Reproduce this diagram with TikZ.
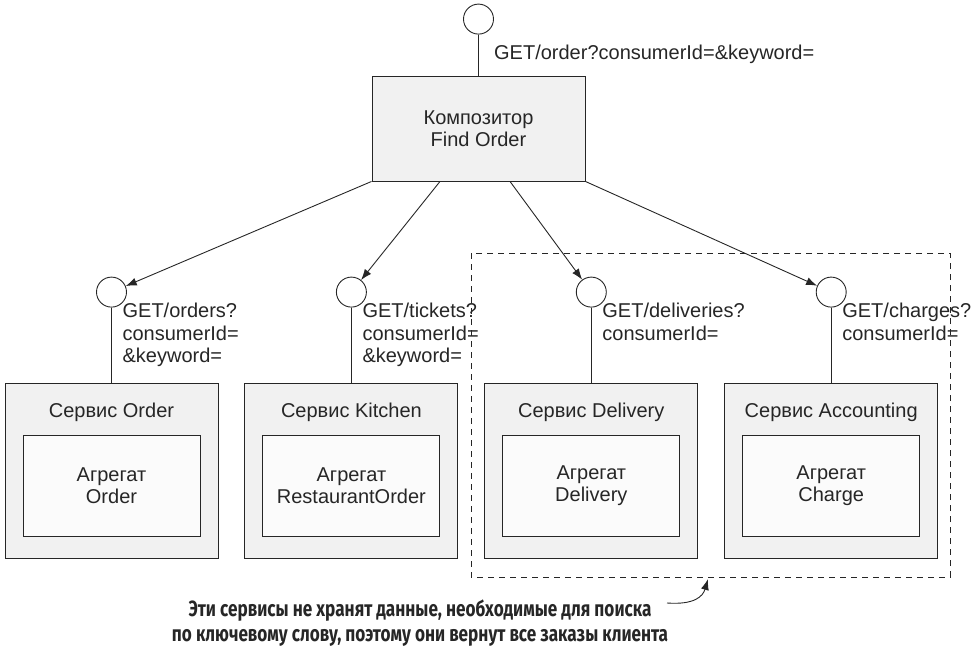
\documentclass[tikz,border=0pt]{standalone}
\usepackage{fontspec}
\setmainfont{Liberation Sans}
\newfontfamily\notefont[FakeStretch=0.78]{Fira Sans}
\usepackage{tikz}
\usetikzlibrary{positioning,arrows.meta}
\definecolor{ink}{HTML}{262626}
\definecolor{boxfill}{HTML}{F1F1F1}
\definecolor{innerfill}{HTML}{FBFBFB}

\begin{document}
\begin{tikzpicture}[x=1pt,y=-1pt,>={Latex[length=11pt,width=8pt]},
  node distance=26pt,
  every node/.style={text=ink,font=\fontsize{20}{22.5}\selectfont},
  port/.style={draw=ink,line width=0.9pt,circle,minimum size=30pt,inner sep=0pt,fill=white},
  cbox/.style={draw=ink,line width=0.9pt,fill=boxfill,minimum width=213pt,minimum height=105pt,align=center},
  svcbox/.style={draw=ink,line width=0.9pt,fill=boxfill,minimum width=213pt,minimum height=175pt},
  aggbox/.style={draw=ink,line width=0.9pt,fill=innerfill,minimum width=177pt,minimum height=101pt,align=center},
  lbl/.style={anchor=north west,inner sep=0pt,align=left},
  wire/.style={draw=ink,line width=0.9pt}]
\useasboundingbox (0,0) rectangle (979,653);

% composer
\node (comp) [cbox] at (478.5,128.5) {Композитор\\Find Order};
\node (c0) [port, above=41pt of comp] {};
\node (l0) [anchor=west,inner sep=0pt] at ([yshift=-35pt]c0.east) {GET/order?consumerId=\&keyword=};
\draw[wire] (c0) -- (comp);

% services
\node (svc1) [svcbox] at (111.5,470.5) {};
\node (svc2) [svcbox, right=of svc1] {};
\node (svc3) [svcbox, right=of svc2] {};
\node (svc4) [svcbox, right=of svc3] {};

\node (t1) at ([yshift=-30pt]svc1.north) {Сервис Order};
\node (t2) at ([yshift=-30pt]svc2.north) {Сервис Kitchen};
\node (t3) at ([yshift=-30pt]svc3.north) {Сервис Delivery};
\node (t4) at ([yshift=-30pt]svc4.north) {Сервис Accounting};

\node (a1) [aggbox] at ([yshift=-15pt]svc1.center) {Агрегат\\Order};
\node (a2) [aggbox] at ([yshift=-15pt]svc2.center) {Агрегат\\RestaurantOrder};
\node (a3) [aggbox] at ([yshift=-15pt]svc3.center) {Агрегат\\Delivery};
\node (a4) [aggbox] at ([yshift=-15pt]svc4.center) {Агрегат\\Charge};

% ports of the services
\node (p1) [port, above=75pt of svc1] {};
\node (p2) [port, above=75pt of svc2] {};
\node (p3) [port, above=75pt of svc3] {};
\node (p4) [port, above=75pt of svc4] {};
\draw[wire] (p1) -- (svc1);
\draw[wire] (p2) -- (svc2);
\draw[wire] (p3) -- (svc3);
\draw[wire] (p4) -- (svc4);

\node (l1) [lbl] at (p1.south east) {GET/orders?\\consumerId=\\\&keyword=};
\node (l2) [lbl] at (p2.south east) {GET/tickets?\\consumerId=\\\&keyword=};
\node (l3) [lbl] at (p3.south east) {GET/deliveries?\\consumerId=};
\node (l4) [lbl] at (p4.south east) {GET/charges?\\consumerId=};

% calls from the composer
\draw[wire,->] (comp.south west) -- (p1);
\draw[wire,->] ([xshift=-38.5pt]comp.south) -- (p2);
\draw[wire,->] ([xshift=31.5pt]comp.south) -- (p3);
\draw[wire,->] (comp.south east) -- (p4);

% services without keyword search
\draw[ink,line width=0.9pt,dash pattern=on 6pt off 5pt] (471,253) rectangle (950,577);
\node (note) [align=center,font=\notefont\bfseries\fontsize{22}{25.5}\selectfont] at (420,623)
  {Эти сервисы не хранят данные, необходимые для поиска\\по ключевому слову, поэтому они вернут все заказы клиента};
\coordinate (notetail) at (667,603);
\coordinate (notetip) at (708,579);
\draw[wire,->] (notetail) .. controls (695,605) and (703,596) .. (notetip);
\end{tikzpicture}
\end{document}
